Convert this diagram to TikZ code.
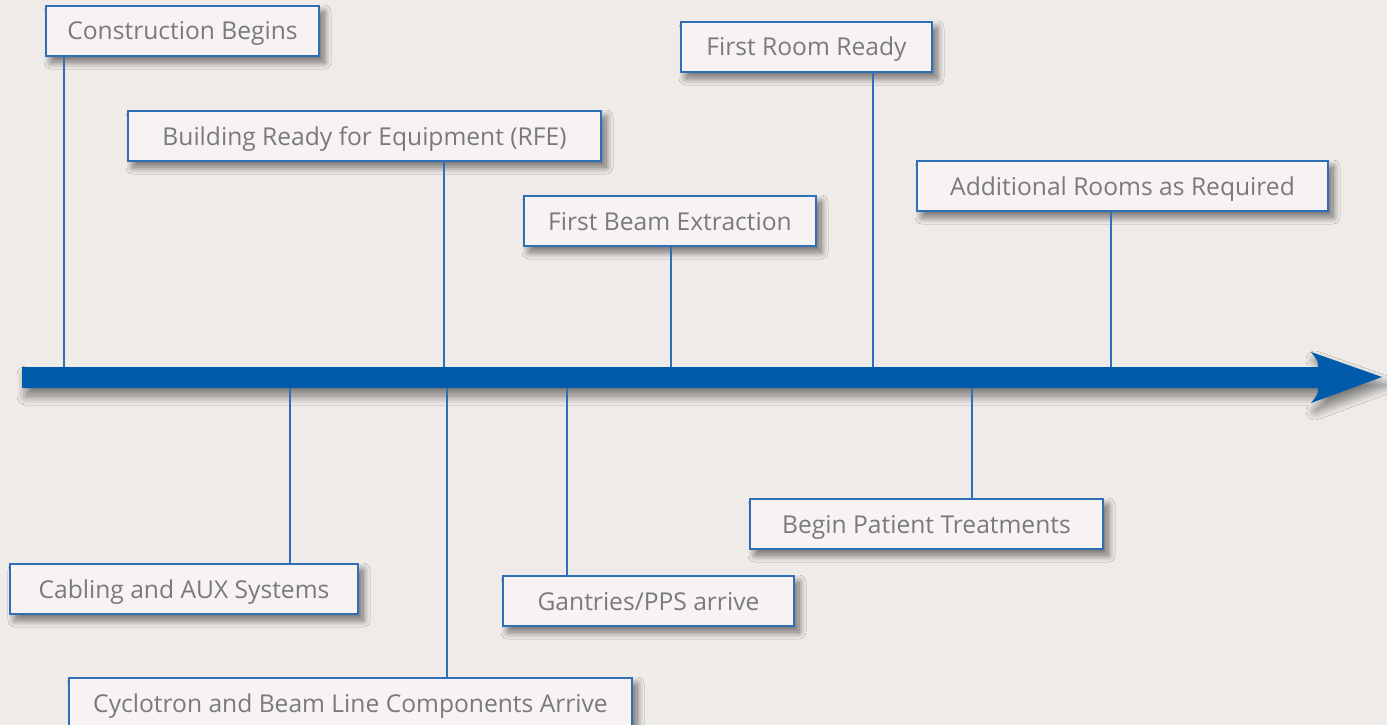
\documentclass[tikz,border=0pt]{standalone}
\usepackage{fontspec}
\setmainfont{Open Sans}
\usetikzlibrary{shadows.blur}
\definecolor{bg}{HTML}{EEEBE8}
\definecolor{boxfill}{HTML}{F6F3F2}
\definecolor{mainblue}{HTML}{005BAA}
\definecolor{lineblue}{HTML}{2E6FB5}
\definecolor{textgray}{HTML}{7A7A7A}
\tikzset{
  milestone/.style={draw=lineblue, line width=1.4pt, fill=boxfill, text=textgray,
    font=\fontsize{24.6}{28}\selectfont, minimum height=50pt, inner sep=0pt,
    text height=18pt, text depth=-4pt,
    blur shadow={shadow xshift=5pt, shadow yshift=-6pt, shadow blur radius=7pt, shadow opacity=55, shadow blur steps=14}},
  tick/.style={draw=lineblue, line width=1.4pt},
}
\begin{document}
\begin{tikzpicture}[x=1pt,y=-1pt]
\fill[bg] (0,0) rectangle (1387,725);
\useasboundingbox (0,0) rectangle (1387,725);
% main arrow
\fill[mainblue, blur shadow={shadow xshift=4pt, shadow yshift=-8pt, shadow blur radius=9pt, shadow opacity=50, shadow blur steps=14}]
  (22,367) -- (1318,367) .. controls (1318,361) .. (1311,352) -- (1382,377) -- (1311,403) .. controls (1318,394) .. (1318,388) -- (22,388) -- cycle;
% tick points on the arrow
\coordinate (t1) at (64,367);
\coordinate (t2) at (444,367);
\coordinate (t3) at (671,367);
\coordinate (t4) at (873,367);
\coordinate (t5) at (1111,367);
\coordinate (b1) at (290,388);
\coordinate (b2) at (447,388);
\coordinate (b3) at (567,388);
\coordinate (b4) at (972,388);
% nodes
\node[milestone, minimum width=273pt] (n1) at (182.5,31) {Construction Begins};
\node[milestone, minimum width=473pt] (n2) at (364.5,136) {Building Ready for Equipment (RFE)};
\node[milestone, minimum width=292pt] (n3) at (670,221) {First Beam Extraction};
\node[milestone, minimum width=251pt] (n4) at (806.5,47) {First Room Ready};
\node[milestone, minimum width=411pt] (n5) at (1122.5,186) {Additional Rooms as Required};
\node[milestone, minimum width=348pt] (m1) at (184,589) {Cabling and AUX Systems};
\node[milestone, minimum width=563pt] (m2) at (350.5,703) {Cyclotron and Beam Line Components Arrive};
\node[milestone, minimum width=291pt] (m3) at (648.5,601) {Gantries/PPS arrive};
\node[milestone, minimum width=353pt] (m4) at (926.5,524) {Begin Patient Treatments};
% connectors
\draw[tick] (t1) -- (t1 |- n1.south);
\draw[tick] (t2) -- (t2 |- n2.south);
\draw[tick] (t3) -- (t3 |- n3.south);
\draw[tick] (t4) -- (t4 |- n4.south);
\draw[tick] (t5) -- (t5 |- n5.south);
\draw[tick] (b1) -- (b1 |- m1.north);
\draw[tick] (b2) -- (b2 |- m2.north);
\draw[tick] (b3) -- (b3 |- m3.north);
\draw[tick] (b4) -- (b4 |- m4.north);
\end{tikzpicture}
\end{document}
